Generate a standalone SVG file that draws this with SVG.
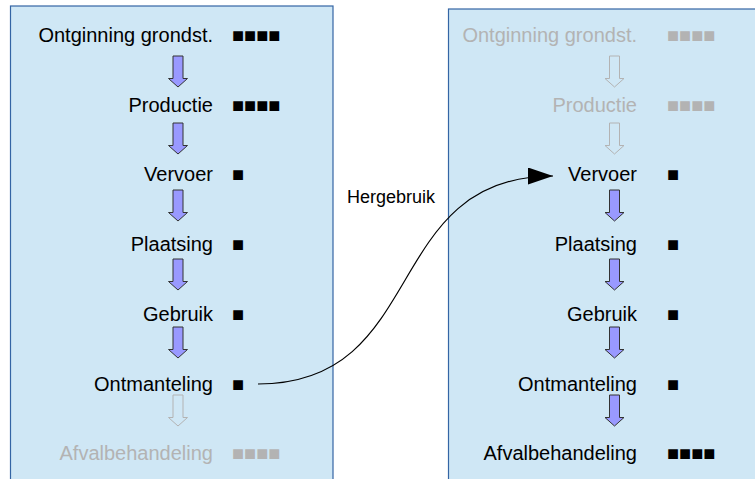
<svg xmlns="http://www.w3.org/2000/svg" xmlns:xlink="http://www.w3.org/1999/xlink" width="755" height="479" viewBox="0 0 755 479">
<style>
.box{fill:#cfe7f5;stroke:#3465a4;stroke-width:1.2}
text{font-family:"Liberation Sans",Arial,"DejaVu Sans",sans-serif;font-size:20px}
.lbl{text-anchor:end}
.on{fill:#000}
.off{fill:#b3b3b3}
.ba{fill:#9999ff;stroke:#333;stroke-width:1}
.ga{fill:none;stroke:#b3b3b3;stroke-width:1}
.conn{fill:none;stroke:#000;stroke-width:1.2}
.cl{font-size:18px;fill:#000}
</style>
<defs>
<path id="arr" d="M -5 0 H 5 V 22.5 H 9.5 L 0 31 L -9.5 22.5 H -5 Z"/>
<marker id="head" markerUnits="userSpaceOnUse" markerWidth="26" markerHeight="18" refX="25" refY="8.5" orient="auto">
<path d="M 0 0 L 25 8.5 L 0 17 Z" fill="#000"/>
</marker>
</defs>
<g id="left-panel">
<rect class="box" x="10.5" y="6" width="322.5" height="480"/>
</g>
<g id="right-panel">
<rect class="box" x="448.5" y="9" width="320" height="480"/>
</g>
<g id="L-ontginning"><text class="lbl on" x="213" y="42">Ontginning grondst.</text><text class="on" x="232" y="42">■■■■</text></g>
<g id="L-productie"><text class="lbl on" x="213" y="111.5">Productie</text><text class="on" x="232" y="111.5">■■■■</text></g>
<g id="L-vervoer"><text class="lbl on" x="213" y="181">Vervoer</text><text class="on" x="232" y="181">■</text></g>
<g id="L-plaatsing"><text class="lbl on" x="213" y="251">Plaatsing</text><text class="on" x="232" y="251">■</text></g>
<g id="L-gebruik"><text class="lbl on" x="213" y="321">Gebruik</text><text class="on" x="232" y="321">■</text></g>
<g id="L-ontmanteling"><text class="lbl on" x="213" y="391">Ontmanteling</text><text class="on" x="232" y="391">■</text></g>
<g id="L-afval"><text class="lbl off" x="213" y="460">Afvalbehandeling</text><text class="off" x="232" y="460">■■■■</text></g>
<g id="R-ontginning"><text class="lbl off" x="637" y="42">Ontginning grondst.</text><text class="off" x="667" y="42">■■■■</text></g>
<g id="R-productie"><text class="lbl off" x="637" y="111.5">Productie</text><text class="off" x="667" y="111.5">■■■■</text></g>
<g id="R-vervoer"><text class="lbl on" x="637" y="181">Vervoer</text><text class="on" x="667" y="181">■</text></g>
<g id="R-plaatsing"><text class="lbl on" x="637" y="251">Plaatsing</text><text class="on" x="667" y="251">■</text></g>
<g id="R-gebruik"><text class="lbl on" x="637" y="321">Gebruik</text><text class="on" x="667" y="321">■</text></g>
<g id="R-ontmanteling"><text class="lbl on" x="637" y="391">Ontmanteling</text><text class="on" x="667" y="391">■</text></g>
<g id="R-afval"><text class="lbl on" x="637" y="460">Afvalbehandeling</text><text class="on" x="667" y="460">■■■■</text></g>
<g id="connectors">
<use href="#arr" class="ba" x="178" y="56"/>
<use href="#arr" class="ba" x="178" y="123"/>
<use href="#arr" class="ba" x="178" y="190"/>
<use href="#arr" class="ba" x="178" y="259"/>
<use href="#arr" class="ba" x="178" y="327"/>
<use href="#arr" class="ga" x="178" y="395"/>
<use href="#arr" class="ga" x="614.5" y="56"/>
<use href="#arr" class="ga" x="614.5" y="123"/>
<use href="#arr" class="ba" x="614.5" y="190"/>
<use href="#arr" class="ba" x="614.5" y="259"/>
<use href="#arr" class="ba" x="614.5" y="327"/>
<use href="#arr" class="ba" x="614.5" y="395"/>
<path class="conn" d="M 258 384 C 430 384, 380 176, 553 176" marker-end="url(#head)"/>
<text class="cl" x="347" y="203">Hergebruik</text>
</g>
</svg>
